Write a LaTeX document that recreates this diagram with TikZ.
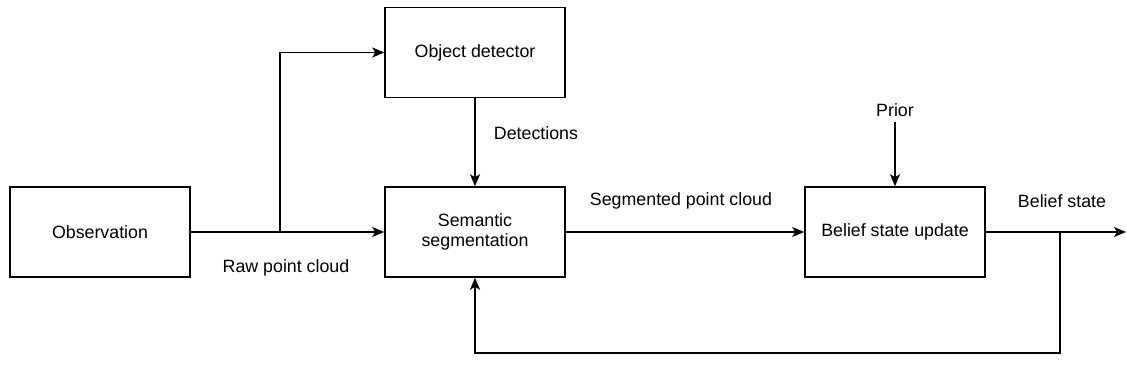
\documentclass[tikz,border=0pt]{standalone}
\usepackage{fontspec}
\setmainfont{Liberation Sans}
\usetikzlibrary{arrows.meta}
\begin{document}
\begin{tikzpicture}[x=1pt,y=-1pt,
  block/.style={draw, line width=1.5pt, minimum width=180pt, minimum height=90pt,
    align=center, inner sep=0pt, font=\fontsize{17.8}{20.5}\selectfont},
  lbl/.style={font=\fontsize{17.8}{20.5}\selectfont, inner sep=0pt},
  flow/.style={line width=1.5pt, -{Stealth[length=12pt,width=10pt,inset=3pt]}},
  wire/.style={line width=1.5pt}]
\useasboundingbox (0,0) rectangle (1127,385);

% blocks
\node[block] (obs) at (100,232) {Observation};
\node[block] (det) at (475,52.5) {Object detector};
\node[block] (seg) at (475,232) {Semantic\\segmentation};
\node[block] (bel) at (895,232) {Belief state update};

% helper points
\coordinate (split) at (280,232);
\coordinate (prior) at (895,122);
\coordinate (tap) at (1060,232);
\coordinate (out) at (1126,232);
\coordinate (loopR) at (1060,353);
\coordinate (loopL) at (475,353);

% labels
\node[lbl] (lraw) at (286,268) {Raw point cloud};
\node[lbl] (ldet) at (536,133) {Detections};
\node[lbl] (lseg) at (681,201) {Segmented point cloud};
\node[lbl] (lprior) at (895,110) {Prior};
\node[lbl] (lbelief) at (1062,201) {Belief state};

% connectors
\draw[flow] (obs.east) -- (seg.west);
\draw[flow] (split) |- (det.west);
\draw[flow] (det.south) -- (seg.north);
\draw[flow] (seg.east) -- (bel.west);
\draw[flow] (prior) -- (bel.north);
\draw[flow] (bel.east) -- (out);
\draw[flow] (tap) -- (loopR) -- (loopL) -- (seg.south);
\end{tikzpicture}
\end{document}
